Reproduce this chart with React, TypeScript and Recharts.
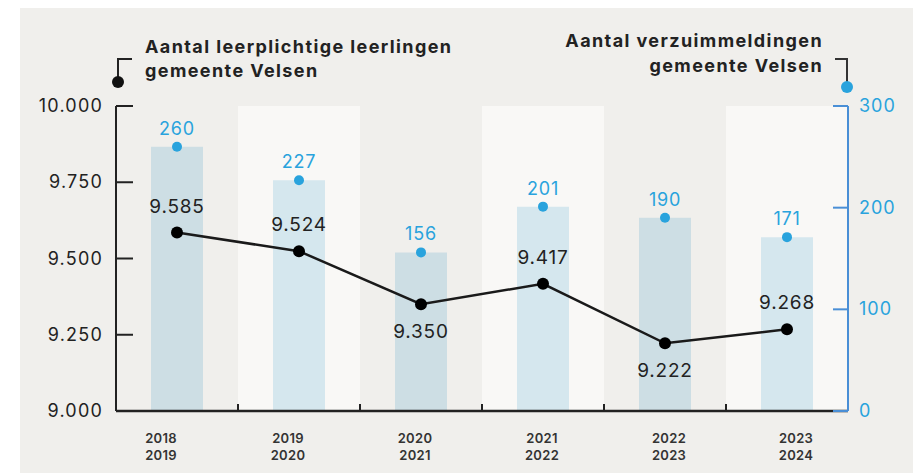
import { Bar, Cell, ComposedChart, LabelList, Line, ReferenceArea, XAxis, YAxis } from "recharts";

const schooljaren = ["2018\n2019", "2019\n2020", "2020\n2021", "2021\n2022", "2022\n2023", "2023\n2024"];
const leerlingen = [9585, 9524, 9350, 9417, 9222, 9268];
const verzuim = [260, 227, 156, 201, 190, 171];
const leftTicks = [9000, 9250, 9500, 9750, 10000];
const rightTicks = [0, 100, 200, 300];

const data = schooljaren.map((jaar, i) => ({ jaar, leerlingen: leerlingen[i], verzuim: verzuim[i] }));

const FONT = "Inter, 'Open Sans', sans-serif";
const INK = "#222222";
const BLUE = "#29a3dd";
const BLUE_AXIS = "#4a8fd6";

const fmt = (n: number) => String(n).replace(/\B(?=(\d{3})+(?!\d))/g, ".");

function LeftTick(props: any) {
  const { x, y, payload } = props;
  return (
    <g>
      <line x1={x} x2={x + 17} y1={y} y2={y} stroke={INK} strokeWidth={2} />
      <text x={x - 13} y={y} dy={6} textAnchor="end" fontSize={18} letterSpacing={1.2} fontFamily={FONT} fill={INK}>
        {fmt(payload.value)}
      </text>
    </g>
  );
}

function RightTick(props: any) {
  const { x, y, payload } = props;
  return (
    <g>
      <line x1={x - 15} x2={x} y1={y} y2={y} stroke={BLUE_AXIS} strokeWidth={2} />
      <text x={x + 11} y={y} dy={6} textAnchor="start" fontSize={18} letterSpacing={1} fontFamily={FONT} fill={BLUE}>
        {payload.value}
      </text>
    </g>
  );
}

function BottomTick(props: any) {
  const { x, y, payload, index, width } = props;
  const band = width / schooljaren.length;
  const [a, b] = String(payload.value).split("\n");
  const shift = -16 + 5 * index;
  return (
    <g>
      {index < schooljaren.length - 1 && (
        <line x1={x + band / 2} x2={x + band / 2} y1={y} y2={y - 7} stroke={INK} strokeWidth={2} />
      )}
      <text x={x + shift} y={y} textAnchor="middle" fontSize={13} fontWeight={600} letterSpacing={0.3} fontFamily={FONT} fill="#333">
        <tspan x={x + shift} dy={32}>{a}</tspan>
        <tspan x={x + shift} dy={17}>{b}</tspan>
      </text>
    </g>
  );
}

function LineLabel(props: any) {
  const { x, y, value, index } = props;
  const prev = leerlingen[index - 1] ?? Infinity;
  const next = leerlingen[index + 1] ?? Infinity;
  const below = value < prev && value < next;
  return (
    <text x={x} y={below ? y + 34 : y - 20} textAnchor="middle" fontSize={19} letterSpacing={0.8} fontFamily={FONT} fill={INK}>
      {fmt(value)}
    </text>
  );
}

const titleStyle = { fontSize: 18, fontWeight: 700, fontFamily: FONT, fill: INK, letterSpacing: 1.4 };

export default function App() {
  return (
    <div style={{ position: "absolute", left: 0, top: 0, width: 919, height: 473, background: "#fff" }}>
      <div style={{ position: "absolute", left: 20, top: 8, width: 893, height: 465, background: "#f0efec" }} />
      <svg width={919} height={473} style={{ position: "absolute", left: 0, top: 0 }}>
        <polyline points="118,82 118,59 132,59" fill="none" stroke={INK} strokeWidth={2} />
        <circle cx={118} cy={82} r={6} fill="#111" />
        <polyline points="847,87 847,59 835,59" fill="none" stroke="#333" strokeWidth={2} />
        <circle cx={847} cy={87} r={6} fill={BLUE} />
        <text x={145} y={53} {...titleStyle}>
          Aantal leerplichtige leerlingen
        </text>
        <text x={145} y={77} {...titleStyle}>
          gemeente Velsen
        </text>
        <text x={823} y={47} textAnchor="end" {...titleStyle}>
          Aantal verzuimmeldingen
        </text>
        <text x={823} y={72} textAnchor="end" {...titleStyle}>
          gemeente Velsen
        </text>
      </svg>
      <div style={{ position: "absolute", left: 0, top: 0 }}>
        <ComposedChart width={919} height={473} data={data} margin={{ top: 106, right: 0, bottom: 0, left: 0 }}>
          {schooljaren
            .filter((_, i) => i % 2 === 1)
            .map((jaar) => (
              <ReferenceArea
                key={jaar}
                x1={jaar}
                x2={jaar}
                yAxisId="left"
                y1={9000}
                y2={10000}
                fill="#f9f8f6"
                fillOpacity={1}
                stroke="none"
              />
            ))}
          <XAxis
            dataKey="jaar"
            height={62}
            interval={0}
            tickSize={0}
            tickMargin={0}
            axisLine={{ stroke: INK, strokeWidth: 2.5 }}
            tickLine={false}
            tick={<BottomTick />}
          />
          <YAxis
            yAxisId="left"
            orientation="left"
            width={116}
            domain={[9000, 10000]}
            ticks={leftTicks}
            tickSize={0}
            tickMargin={0}
            axisLine={{ stroke: INK, strokeWidth: 2 }}
            tickLine={false}
            tick={<LeftTick />}
          />
          <YAxis
            yAxisId="right"
            orientation="right"
            width={71}
            domain={[0, 300]}
            ticks={rightTicks}
            tickSize={0}
            tickMargin={0}
            axisLine={{ stroke: BLUE_AXIS, strokeWidth: 2 }}
            tickLine={false}
            tick={<RightTick />}
          />
          <Bar dataKey="verzuim" yAxisId="right" barSize={52} isAnimationActive={false}>
            {data.map((d, i) => (
              <Cell key={d.jaar} fill={i % 2 === 0 ? "#cddee4" : "#d5e7ee"} />
            ))}
          </Bar>
          <Line
            dataKey="verzuim"
            yAxisId="right"
            stroke="none"
            dot={{ r: 5, fill: BLUE, stroke: "none" }}
            activeDot={false}
            isAnimationActive={false}
          >
            <LabelList dataKey="verzuim" position="top" offset={12} fill={BLUE} fontSize={18} letterSpacing={0.8} fontFamily={FONT} />
          </Line>
          <Line
            dataKey="leerlingen"
            yAxisId="left"
            stroke="#1a1a1a"
            strokeWidth={2.5}
            dot={{ r: 6, fill: "#000", stroke: "none" }}
            activeDot={false}
            isAnimationActive={false}
          >
            <LabelList dataKey="leerlingen" content={<LineLabel />} />
          </Line>
        </ComposedChart>
      </div>
    </div>
  );
}
